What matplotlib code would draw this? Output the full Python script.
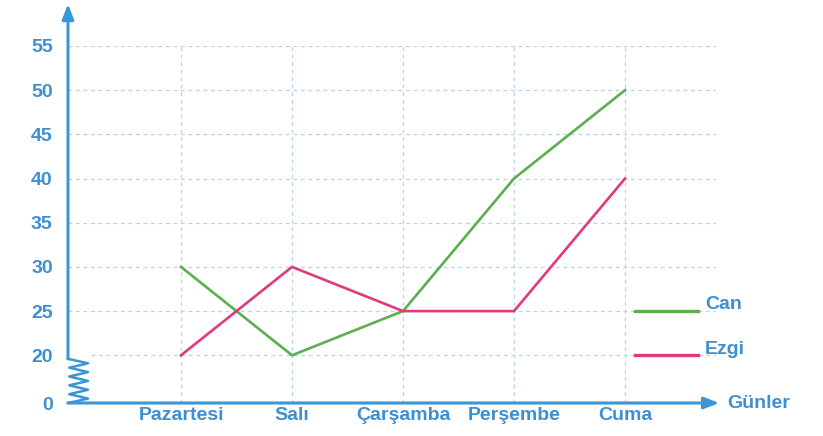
import numpy as np
import matplotlib
matplotlib.use("Agg")
from matplotlib import pyplot as plt

days = ["Pazartesi", "Salı", "Çarşamba", "Perşembe", "Cuma"]
can = [30, 20, 25, 40, 50]
ezgi = [20, 30, 25, 25, 40]
y_ticks = [0, 20, 25, 30, 35, 40, 45, 50, 55]

AXIS_BLUE = "#3a96d4"
TEXT_BLUE = "#3d8fd1"
GRID_BLUE = "#b3d6f0"
GREEN = "#5cae4e"
PINK = "#e2397c"


def to_axis(v):
    # Broken axis: 0..20 squeezed into a short gap, then 5 units per step.
    v = np.asarray(v, dtype=float)
    return np.where(v < 20, v / 20 * 1.08, 1.08 + (v - 20) / 5)


plt.rcParams["font.family"] = ["Liberation Sans", "DejaVu Sans"]
FS = 14
FW = "bold"

W, H = 823, 436
fig = plt.figure(figsize=(W / 100, H / 100), dpi=100)
left, right, bottom, top = 68, 716, 403, 46
ax = fig.add_axes([left / W, (H - bottom) / H, (right - left) / W, (bottom - top) / H])

x = np.arange(len(days))
ax.plot(x, to_axis(can), color=GREEN, lw=1.9, zorder=3)
ax.plot(x, to_axis(ezgi), color=PINK, lw=1.9, zorder=3)

ax.set_xlim(-113 / 111, (right - 181) / 111)
ax.set_ylim(0, float(to_axis(55)))

ax.set_xticks(x)
ax.set_xticklabels(days, color=TEXT_BLUE, fontsize=FS, fontweight=FW)
ax.set_yticks(to_axis(y_ticks))
ax.set_yticklabels([str(t) for t in y_ticks], color=TEXT_BLUE, fontsize=FS,
                   fontweight=FW)
ax.tick_params(axis="both", length=0)
ax.tick_params(axis="y", pad=11)
ax.tick_params(axis="x", pad=3)

# dashed grid
for yv in to_axis(y_ticks[1:]):
    ax.axhline(yv, xmin=0.035 if yv < 1.5 else 0, color=GRID_BLUE, lw=0.9,
               ls=(0, (3, 3)), zorder=1)
for xv in x:
    ax.axvline(xv, color=GRID_BLUE, lw=0.9, ls=(0, (3, 3)), zorder=1)

for s in ax.spines.values():
    s.set_visible(False)

# axes with arrows
y20 = float(to_axis(20)) / float(to_axis(55))
ax.annotate("", xy=(0, (bottom - 4) / (bottom - top)), xytext=(0, y20 - 0.01),
            xycoords="axes fraction",
            arrowprops=dict(arrowstyle="-|>,head_length=0.9,head_width=0.35",
                            color=AXIS_BLUE, lw=2.2, shrinkA=0, shrinkB=0),
            annotation_clip=False)
ax.annotate("", xy=(1.005, 0), xytext=(0, 0), xycoords="axes fraction",
            arrowprops=dict(arrowstyle="-|>,head_length=0.9,head_width=0.35",
                            color=AXIS_BLUE, lw=2.2, shrinkA=0, shrinkB=0),
            annotation_clip=False)

# zigzag break on the y axis
n = 11
zy = np.linspace(y20 - 0.01, 0.0, n)
zx = np.where(np.arange(n) % 2 == 1, 20 / (right - left), 0.002)
zx[0] = zx[-1] = 0.0
ax.plot(zx, zy, color=AXIS_BLUE, lw=1.8, transform=ax.transAxes, clip_on=False,
        zorder=4)

ax.text(1.017, 0.0, "Günler", transform=ax.transAxes, color=TEXT_BLUE,
        fontsize=FS, fontweight=FW, va="center", ha="left", clip_on=False)

# legend drawn beside the last category, on the 25 and 20 grid levels
for name, color, level in [("Can", GREEN, 25), ("Ezgi", PINK, 20)]:
    yl = float(to_axis(level))
    ax.plot([4.09, 4.66], [yl, yl], color=color, lw=2.4, clip_on=False, zorder=3)
    ax.text(4.72, yl + 0.14, name, color=TEXT_BLUE, fontsize=FS, fontweight=FW,
            va="center", ha="left", clip_on=False)

fig.savefig("out.png", dpi=100)
